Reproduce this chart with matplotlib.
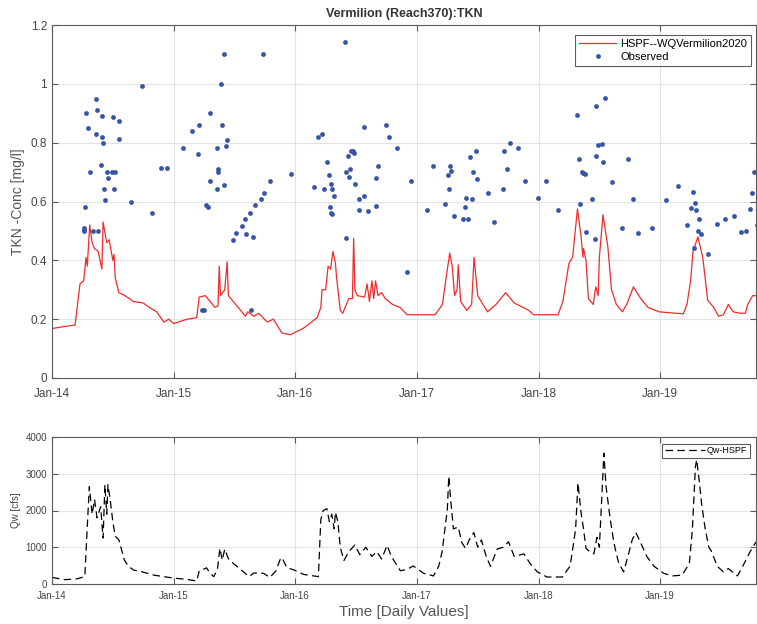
import numpy as np
import pandas as pd
import matplotlib
matplotlib.use('Agg')
import matplotlib.pyplot as plt

plt.rcParams['font.family'] = ['Liberation Sans', 'DejaVu Sans']

# =============================================================================
# DADOS (tempo em anos decimais)
# =============================================================================
tkn_sim_t = [2014.00, 2014.10, 2014.19, 2014.21, 2014.23, 2014.26, 2014.28, 2014.29, 2014.31, 2014.33,
             2014.35, 2014.38, 2014.41, 2014.42, 2014.45, 2014.47, 2014.50, 2014.51, 2014.52, 2014.55,
             2014.60, 2014.67, 2014.75, 2014.80, 2014.86, 2014.92, 2014.96, 2015.00, 2015.11, 2015.19,
             2015.21, 2015.26, 2015.30, 2015.34, 2015.365, 2015.375, 2015.385, 2015.42, 2015.44, 2015.45,
             2015.48, 2015.55, 2015.59, 2015.61, 2015.66, 2015.70, 2015.77, 2015.82, 2015.85, 2015.89,
             2015.96, 2016.07, 2016.18, 2016.21, 2016.22, 2016.25, 2016.27, 2016.29, 2016.31, 2016.33,
             2016.34, 2016.37, 2016.39, 2016.44, 2016.47, 2016.48, 2016.49, 2016.51, 2016.57, 2016.59,
             2016.61, 2016.63, 2016.645, 2016.66, 2016.68, 2016.71, 2016.74, 2016.80, 2016.86, 2016.92,
             2017.15, 2017.21, 2017.24, 2017.27, 2017.29, 2017.31, 2017.33, 2017.34, 2017.36, 2017.41,
             2017.45, 2017.47, 2017.50, 2017.58, 2017.65, 2017.73, 2017.80, 2017.92, 2017.96, 2018.16,
             2018.20, 2018.25, 2018.28, 2018.32, 2018.35, 2018.365, 2018.37, 2018.39, 2018.41, 2018.45,
             2018.47, 2018.49, 2018.50, 2018.53, 2018.55, 2018.57, 2018.60, 2018.64, 2018.69, 2018.73,
             2018.78, 2018.84, 2018.90, 2018.99, 2019.19, 2019.22, 2019.25, 2019.27, 2019.31, 2019.35,
             2019.37, 2019.39, 2019.44, 2019.48, 2019.52, 2019.56, 2019.60, 2019.66, 2019.70, 2019.72,
             2019.76, 2019.79]
tkn_sim = [0.168, 0.175, 0.180, 0.25, 0.32, 0.33, 0.41, 0.38, 0.52, 0.46,
           0.44, 0.43, 0.37, 0.53, 0.46, 0.47, 0.40, 0.42, 0.34, 0.29,
           0.28, 0.26, 0.255, 0.24, 0.225, 0.19, 0.20, 0.185, 0.20, 0.205,
           0.275, 0.28, 0.26, 0.24, 0.245, 0.38, 0.28, 0.30, 0.395, 0.28,
           0.265, 0.23, 0.21, 0.225, 0.21, 0.22, 0.19, 0.20, 0.18, 0.153,
           0.147, 0.17, 0.205, 0.24, 0.30, 0.30, 0.38, 0.37, 0.43, 0.39,
           0.34, 0.23, 0.22, 0.27, 0.27, 0.475, 0.30, 0.28, 0.275, 0.32,
           0.26, 0.33, 0.27, 0.33, 0.28, 0.29, 0.27, 0.25, 0.24, 0.215,
           0.215, 0.25, 0.34, 0.425, 0.38, 0.28, 0.30, 0.385, 0.26, 0.23,
           0.25, 0.41, 0.28, 0.225, 0.25, 0.29, 0.255, 0.23, 0.215, 0.215,
           0.26, 0.39, 0.41, 0.575, 0.48, 0.41, 0.44, 0.40, 0.27, 0.25,
           0.31, 0.28, 0.41, 0.555, 0.50, 0.445, 0.30, 0.25, 0.225, 0.255,
           0.31, 0.27, 0.24, 0.225, 0.218, 0.25, 0.33, 0.43, 0.48, 0.41,
           0.34, 0.265, 0.24, 0.21, 0.215, 0.25, 0.225, 0.22, 0.22, 0.25,
           0.28, 0.28]

obs_t = [2014.261, 2014.262, 2014.265, 2014.272, 2014.280, 2014.299, 2014.313, 2014.340, 2014.362, 2014.368,
         2014.362, 2014.381, 2014.400, 2014.409, 2014.414, 2014.420, 2014.428, 2014.439, 2014.450, 2014.463,
         2014.496, 2014.505, 2014.508, 2014.518, 2014.549, 2014.551, 2014.650, 2014.743, 2014.826, 2014.897,
         2014.949, 2015.073, 2015.150, 2015.199, 2015.210, 2015.237, 2015.251, 2015.267, 2015.279, 2015.300,
         2015.300, 2015.355, 2015.358, 2015.366, 2015.368, 2015.388, 2015.400, 2015.410, 2015.416, 2015.430,
         2015.440, 2015.487, 2015.514, 2015.566, 2015.588, 2015.597, 2015.630, 2015.638, 2015.649, 2015.671,
         2015.718, 2015.731, 2015.739, 2015.794, 2015.967, 2016.156, 2016.190, 2016.220, 2016.239, 2016.263,
         2016.274, 2016.282, 2016.290, 2016.296, 2016.300, 2016.305, 2016.318, 2016.410, 2016.420, 2016.420,
         2016.430, 2016.440, 2016.447, 2016.458, 2016.475, 2016.486, 2016.494, 2016.521, 2016.527, 2016.562,
         2016.565, 2016.595, 2016.661, 2016.664, 2016.683, 2016.746, 2016.768, 2016.834, 2016.919, 2016.955,
         2017.084, 2017.133, 2017.235, 2017.254, 2017.262, 2017.270, 2017.284, 2017.303, 2017.380, 2017.393,
         2017.407, 2017.418, 2017.440, 2017.454, 2017.459, 2017.484, 2017.490, 2017.583, 2017.632, 2017.706,
         2017.717, 2017.742, 2017.764, 2017.830, 2017.887, 2017.994, 2018.063, 2018.162, 2018.318, 2018.332,
         2018.340, 2018.354, 2018.365, 2018.381, 2018.393, 2018.436, 2018.463, 2018.469, 2018.475, 2018.490,
         2018.519, 2018.530, 2018.546, 2018.607, 2018.683, 2018.738, 2018.776, 2018.820, 2018.930, 2019.045,
         2019.144, 2019.218, 2019.257, 2019.273, 2019.278, 2019.284, 2019.298, 2019.311, 2019.319, 2019.339,
         2019.397, 2019.465, 2019.533, 2019.607, 2019.663, 2019.704, 2019.737, 2019.759, 2019.775, 2019.800]
obs = [0.51, 0.503, 0.50, 0.58, 0.90, 0.85, 0.70, 0.50, 0.95, 0.91,
       0.83, 0.50, 0.725, 0.89, 0.82, 0.80, 0.642, 0.605, 0.70, 0.68,
       0.70, 0.887, 0.642, 0.70, 0.872, 0.812, 0.597, 0.993, 0.561, 0.715,
       0.715, 0.782, 0.84, 0.762, 0.86, 0.231, 0.231, 0.588, 0.58, 0.902,
       0.671, 0.781, 0.642, 0.71, 0.70, 1.00, 0.86, 1.10, 0.656, 0.79,
       0.81, 0.469, 0.492, 0.518, 0.54, 0.49, 0.56, 0.231, 0.478, 0.588,
       0.609, 1.10, 0.63, 0.67, 0.693, 0.65, 0.82, 0.83, 0.642, 0.735,
       0.69, 0.58, 0.56, 0.66, 0.642, 0.556, 0.62, 1.142, 0.475, 0.70,
       0.753, 0.683, 0.71, 0.77, 0.77, 0.764, 0.66, 0.61, 0.571, 0.62,
       0.853, 0.567, 0.681, 0.585, 0.722, 0.86, 0.82, 0.782, 0.362, 0.67,
       0.571, 0.72, 0.59, 0.69, 0.642, 0.72, 0.704, 0.551, 0.54, 0.58,
       0.611, 0.54, 0.75, 0.61, 0.70, 0.772, 0.676, 0.63, 0.532, 0.642,
       0.772, 0.712, 0.798, 0.783, 0.671, 0.611, 0.67, 0.571, 0.895, 0.745,
       0.59, 0.70, 0.696, 0.693, 0.498, 0.609, 0.472, 0.926, 0.753, 0.793,
       0.795, 0.733, 0.951, 0.667, 0.509, 0.745, 0.609, 0.492, 0.509, 0.605,
       0.654, 0.52, 0.577, 0.633, 0.441, 0.594, 0.571, 0.50, 0.541, 0.49,
       0.42, 0.524, 0.541, 0.552, 0.498, 0.50, 0.575, 0.628, 0.70, 0.52]

qw_t = [2014.00, 2014.10, 2014.19, 2014.27, 2014.29, 2014.307, 2014.33, 2014.35, 2014.37, 2014.40,
        2014.42, 2014.435, 2014.45, 2014.46, 2014.48, 2014.50, 2014.52, 2014.55, 2014.565, 2014.595,
        2014.63, 2014.67, 2014.72, 2014.84, 2014.92, 2015.00, 2015.10, 2015.19, 2015.21, 2015.27,
        2015.30, 2015.33, 2015.36, 2015.38, 2015.40, 2015.42, 2015.45, 2015.49, 2015.55, 2015.62,
        2015.66, 2015.74, 2015.79, 2015.84, 2015.875, 2015.89, 2015.93, 2015.99, 2016.07, 2016.19,
        2016.21, 2016.23, 2016.26, 2016.28, 2016.30, 2016.32, 2016.33, 2016.35, 2016.37, 2016.40,
        2016.44, 2016.49, 2016.53, 2016.58, 2016.63, 2016.67, 2016.71, 2016.755, 2016.79, 2016.864,
        2016.92, 2016.97, 2017.056, 2017.136, 2017.18, 2017.207, 2017.25, 2017.262, 2017.28, 2017.30,
        2017.34, 2017.37, 2017.40, 2017.43, 2017.468, 2017.50, 2017.53, 2017.57, 2017.605, 2017.66,
        2017.71, 2017.753, 2017.80, 2017.88, 2017.93, 2017.99, 2018.07, 2018.195, 2018.26, 2018.305,
        2018.324, 2018.35, 2018.37, 2018.39, 2018.42, 2018.455, 2018.48, 2018.50, 2018.52, 2018.537,
        2018.555, 2018.59, 2018.62, 2018.64, 2018.66, 2018.70, 2018.74, 2018.77, 2018.80, 2018.84,
        2018.89, 2018.95, 2019.03, 2019.10, 2019.18, 2019.24, 2019.265, 2019.29, 2019.30, 2019.32,
        2019.34, 2019.37, 2019.40, 2019.42, 2019.47, 2019.52, 2019.56, 2019.635, 2019.68, 2019.73,
        2019.76, 2019.79]
qw = [180, 120, 130, 200, 1560, 2650, 1900, 2300, 1800, 2100,
      1250, 2700, 1900, 2700, 2250, 1700, 1300, 1200, 1020, 650,
      480, 380, 350, 240, 200, 160, 130, 80, 350, 440,
      290, 200, 400, 970, 650, 950, 690, 560, 400, 200,
      300, 290, 180, 350, 660, 720, 450, 380, 260, 200,
      1750, 2000, 2050, 1700, 1900, 1500, 1950, 1700, 1000, 640,
      880, 1060, 800, 1000, 750, 880, 680, 1050, 750, 360,
      400, 490, 290, 220, 490, 880, 2020, 2930, 2200, 1500,
      1550, 1120, 970, 1200, 1400, 1000, 1200, 750, 480, 950,
      1000, 1150, 750, 820, 560, 330, 190, 190, 490, 1500,
      2750, 1930, 1500, 970, 880, 820, 1270, 1000, 2350, 3560,
      2650, 1750, 1120, 820, 560, 330, 820, 1200, 1400, 1120,
      750, 480, 290, 220, 240, 560, 1500, 3200, 3380, 2850,
      2200, 1500, 1000, 900, 480, 330, 420, 220, 490, 820,
      1000, 1150]

x_ticks = ['2014-01-01', '2015-01-01', '2016-01-01', '2017-01-01', '2018-01-01', '2019-01-01']
x_labels = ['Jan-14', 'Jan-15', 'Jan-16', 'Jan-17', 'Jan-18', 'Jan-19']


def to_dates(years):
    """anos decimais -> datas"""
    y = np.asarray(years) - 2014.0
    return pd.Timestamp('2014-01-01') + pd.to_timedelta(y * 365.25, unit='D')


def style_axes(ax, fs, xpad):
    ax.grid(True, color='#e3e3e3', lw=0.8)
    ax.set_axisbelow(True)
    for s in ax.spines.values():
        s.set_color('#5a5a5a')
        s.set_linewidth(0.8)
    ax.tick_params(direction='in', top=True, right=True, length=4,
                   color='#5a5a5a', labelcolor='#444444', labelsize=fs)
    ax.tick_params(axis='x', pad=xpad)
    ax.set_xticks(pd.to_datetime(x_ticks))
    ax.set_xticklabels(x_labels)
    ax.set_xlim(pd.Timestamp('2014-01-01'), pd.Timestamp('2019-10-16'))


# =============================================================================
# GRÁFICO
# =============================================================================
fig = plt.figure(figsize=(7.57, 6.24), dpi=100)
ax1 = fig.add_axes([52 / 757, 1 - 378 / 624, 704 / 757, 353 / 624])
ax2 = fig.add_axes([52 / 757, 1 - 584 / 624, 704 / 757, 147 / 624])

ax1.plot(to_dates(tkn_sim_t), tkn_sim, '-', color='#f22a2a', lw=0.9, label='HSPF--WQVermilion2020')
ax1.plot(to_dates(obs_t), obs, 'o', color='#3454a4', ms=3.0, mew=0.4, mec='#3454a4', label='Observed')
ax1.set_ylim(0, 1.2)
ax1.set_yticks([0, 0.2, 0.4, 0.6, 0.8, 1.0, 1.2])
ax1.set_yticklabels(['0', '0.2', '0.4', '0.6', '0.8', '1', '1.2'])
style_axes(ax1, 8.5, 7)
ax1.set_ylabel('TKN -Conc [mg/l]', fontsize=10, color='#555555', labelpad=4)
ax1.set_title('Vermilion (Reach370):TKN', fontsize=9, fontweight='bold', color='#333333', pad=6)
leg1 = ax1.legend(loc='upper right', fontsize=8, frameon=True, fancybox=False,
                  edgecolor='#333333', handlelength=3.4, borderpad=0.35, labelspacing=0.3,
                  handletextpad=0.35, borderaxespad=0, bbox_to_anchor=(0.993, 0.972))
leg1.get_frame().set_linewidth(0.8)

ax2.plot(to_dates(qw_t), qw, color='black', lw=0.9, dashes=(6, 3.5), label='Qw-HSPF')
ax2.set_ylim(0, 4000)
ax2.set_yticks([0, 1000, 2000, 3000, 4000])
style_axes(ax2, 7, 5)
ax2.set_ylabel('Qw [cfs]', fontsize=7, color='#444444', labelpad=3)
ax2.set_xlabel('Time [Daily Values]', fontsize=11, color='#555555', labelpad=3)
leg2 = ax2.legend(loc='upper right', fontsize=6.5, frameon=True, fancybox=False,
                  edgecolor='#333333', handlelength=4.5, borderpad=0.25, handletextpad=0.2,
                  borderaxespad=0, bbox_to_anchor=(0.991, 0.952))
leg2.get_frame().set_linewidth(0.8)

fig.savefig('out.png', dpi=100)
